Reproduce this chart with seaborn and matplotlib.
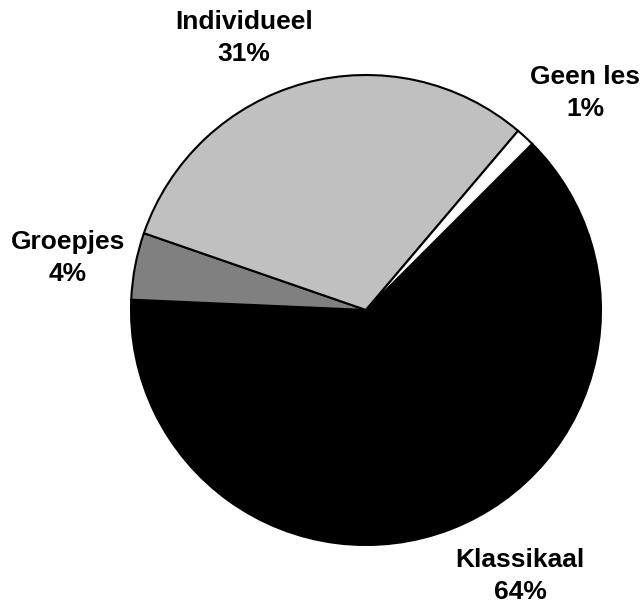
import numpy as np
import matplotlib
matplotlib.use("Agg")
import matplotlib.pyplot as plt
import seaborn as sns

# Data (shares)
categories = ["Klassikaal", "Groepjes", "Individueel", "Geen les"]
shares = [63.2, 4.6, 30.9, 1.3]
pct_labels = ["64%", "4%", "31%", "1%"]
colors = ["#000000", "#808080", "#c0c0c0", "#ffffff"]

sns.set_theme(style="white")
plt.rcParams["font.family"] = ["Liberation Sans", "DejaVu Sans"]

W, H = 643, 607
fig = plt.figure(figsize=(W / 100, H / 100), dpi=100)
ax = fig.add_axes([0, 0, 1, 1])

R = 235.0
cx, cy = 366.0, 310.0  # pixel center (from top)

wedges, _ = ax.pie(
    shares,
    colors=colors,
    startangle=45,
    counterclock=False,
    radius=1.0,
    wedgeprops=dict(edgecolor="black", linewidth=1.5),
)

ax.set_xlim(-cx / R, (W - cx) / R)
ax.set_ylim(-(H - cy) / R, cy / R)
ax.set_aspect("equal")
ax.axis("off")

# label placement (angle in degrees, distance in radii)
label_pos = [(-59.9, 1.308), (170.1, 1.287), (114.2, 1.269), (44.7, 1.312)]
for cat, pct, (ang, dist) in zip(categories, pct_labels, label_pos):
    a = np.deg2rad(ang)
    ax.text(dist * np.cos(a), dist * np.sin(a), f"{cat}\n{pct}",
            ha="center", va="center", fontsize=19, fontweight="bold",
            color="black", linespacing=1.45)

fig.savefig("out.png", dpi=100)
